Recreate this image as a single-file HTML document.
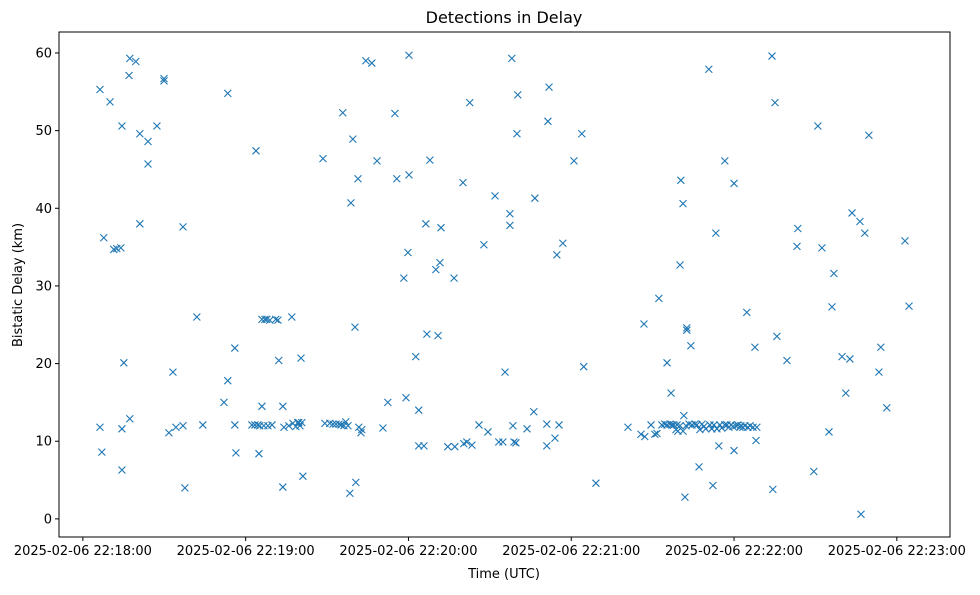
<!DOCTYPE html>
<html><head><meta charset="utf-8"><style>
body{margin:0;background:#fff;}
svg text{font-family:"DejaVu Sans","Liberation Sans",sans-serif;fill:#000;}
</style></head><body>
<svg id="chart" width="980" height="590" xmlns="http://www.w3.org/2000/svg"></svg>
<script>
const tickSeconds=[0,60,120,180,240,300];
const tickLabels=["2025-02-06 22:18:00","2025-02-06 22:19:00","2025-02-06 22:20:00","2025-02-06 22:21:00","2025-02-06 22:22:00","2025-02-06 22:23:00"];
const yTicks=[0,10,20,30,40,50,60];
const times=[6.3,6.3,7.0,7.7,10.0,11.4,12.5,14.0,14.4,14.4,14.4,15.1,17.0,17.3,17.3,19.5,21.0,21.0,24.0,24.0,27.3,29.9,29.9,31.7,33.2,34.3,36.9,36.9,37.6,42.0,44.2,52.0,53.4,53.4,56.0,56.0,56.4,
62.3,63.4,63.8,64.5,64.9,65.2,66.0,66.0,66.7,67.1,67.8,68.2,68.9,69.7,71.1,71.9,72.2,73.7,73.7,74.1,75.9,77.0,77.4,78.5,79.2,79.6,80.0,80.4,80.7,81.1,
88.5,89.2,91.0,92.2,93.3,94.4,95.1,95.8,96.2,96.9,97.7,98.4,98.8,99.5,100.3,100.6,101.4,101.7,102.5,102.8,104.3,106.5,108.4,110.6,112.4,115.0,115.7,118.3,119.1,119.8,120.2,120.2,122.7,123.8,123.8,125.7,126.4,126.8,127.9,130.1,130.9,131.6,132.0,134.5,136.8,137.1,140.1,140.4,141.5,142.6,143.4,146.0,147.8,149.3,151.9,153.3,154.8,155.6,157.4,157.4,158.1,158.5,158.9,159.6,160.0,160.3,163.7,166.2,166.6,171.0,171.0,171.4,171.8,174.0,174.7,175.5,176.9,181.0,183.9,184.6,189.1,
200.9,205.7,206.8,207.1,209.4,210.8,211.6,212.3,213.4,214.5,215.3,215.3,216.4,216.8,217.1,217.8,218.6,219.0,219.3,220.1,220.1,220.4,221.2,221.2,221.5,221.9,222.3,222.6,222.6,223.4,224.1,224.5,225.6,226.3,227.1,227.4,228.2,228.9,229.6,230.7,231.1,231.8,232.2,232.6,233.3,233.7,234.4,234.8,235.5,236.6,236.6,237.4,238.1,238.9,239.6,240.0,240.0,240.7,241.4,242.2,242.5,243.3,244.0,244.7,245.1,245.9,247.0,247.7,248.1,248.4,
254.0,254.3,255.1,255.8,259.5,263.2,263.5,269.4,270.9,272.4,275.0,276.1,276.8,279.8,281.2,282.7,283.5,286.4,286.8,288.2,289.7,293.4,294.1,296.3,303.0,304.5];
const delays=[55.3,11.8,8.6,36.2,53.7,34.7,34.8,34.9,50.6,11.6,6.3,20.1,57.1,59.3,12.9,58.9,49.6,38,48.6,45.7,50.6,56.7,56.4,11.1,18.9,11.8,37.6,12,4,26,12.1,15,17.8,54.8,22,12.1,8.5,
12.1,12.1,47.4,12.1,8.4,12,14.5,25.7,12,25.7,25.7,12,25.6,12.1,25.7,25.6,20.4,14.5,4.1,11.8,12,26,12.3,11.9,12.4,12.4,12,20.7,12.4,5.5,
46.4,12.3,12.3,12.2,12.2,12.2,12.1,52.3,12,12.5,12,3.3,40.7,48.9,24.7,4.7,43.8,11.8,11.1,11.5,59,58.7,46.1,11.7,15,52.2,43.8,31,15.6,34.3,44.3,59.7,20.9,14,9.4,9.4,38,23.8,46.2,32.1,23.6,33,37.5,9.3,31,9.3,43.3,9.7,9.9,53.6,9.5,12.1,35.3,11.2,41.6,9.9,9.9,18.9,37.8,39.3,59.3,12,9.9,9.8,49.6,54.6,11.6,13.8,41.3,9.4,12.2,51.2,55.6,10.4,34,12.1,35.5,46.1,49.6,19.6,4.6,
11.8,10.9,25.1,10.6,12.1,10.9,11,28.4,12.1,12.2,20.1,12.1,12.2,16.2,12.1,12.1,11.5,12.1,11.3,32.7,12,43.6,40.6,11.3,13.3,2.8,12,24.3,24.6,12.2,22.3,12.1,12.2,12.1,6.7,11.5,12.2,11.9,11.6,57.9,12.1,11.6,4.3,12.1,36.8,11.6,9.4,12.1,11.7,46.1,12.1,12.1,11.8,12.1,11.9,43.2,8.8,12,12.1,11.8,12,11.8,12,26.6,11.8,12,11.8,22.1,10.1,11.8,
59.6,3.8,53.6,23.5,20.4,35.1,37.4,6.1,50.6,34.9,11.2,27.3,31.6,20.9,16.2,20.6,39.4,38.3,0.6,36.8,49.4,18.9,22.1,14.3,35.8,27.4];

const NS="http://www.w3.org/2000/svg";
const svg=document.getElementById('chart');
const L=59,R=950,T=32,B=537;
const xMin=-8.8,xMax=319.6,yMin=-2.33,yMax=62.7;
function xs(v){return L+(v-xMin)/(xMax-xMin)*(R-L);}
function ys(v){return B-(v-yMin)/(yMax-yMin)*(B-T);}
function mk(tag,attrs,parent){const e=document.createElementNS(NS,tag);for(const k in attrs)e.setAttribute(k,attrs[k]);(parent||svg).appendChild(e);return e;}

const title=mk('text',{x:504,y:23,'text-anchor':'middle','font-size':'16'});


title.textContent='Detections in Delay';

const pts=mk('g',{stroke:'#1f77b4','stroke-width':'1.1',fill:'none'});


for(let i=0;i<times.length;i++){
  const cx=xs(times[i]),cy=ys(delays[i]),s=3.5;
  const p=mk('path',{d:`M${cx-s},${cy-s}L${cx+s},${cy+s}M${cx-s},${cy+s}L${cx+s},${cy-s}`},pts);
  
  
}

const frame=mk('rect',{x:L,y:T,width:R-L,height:B-T,fill:'none',stroke:'#000','stroke-width':'1'});



const xa=mk('g',{});


tickSeconds.forEach((t,i)=>{
  const x=xs(t);
  mk('line',{x1:x,x2:x,y1:B,y2:B+4,stroke:'#000'},xa);
  const tx=mk('text',{x:x,y:B+18,'text-anchor':'middle','font-size':'13'},xa);
  
  
  tx.textContent=tickLabels[i];
});
const xl=mk('text',{x:504,y:578,'text-anchor':'middle','font-size':'13'});


xl.textContent='Time (UTC)';

const ya=mk('g',{});


yTicks.forEach(v=>{
  const y=ys(v);
  mk('line',{x1:L-4,x2:L,y1:y,y2:y,stroke:'#000'},ya);
  const tx=mk('text',{x:L-7,y:y+4.5,'text-anchor':'end','font-size':'13'},ya);
  
  
  tx.textContent=v;
});
const yl=mk('text',{x:0,y:0,'text-anchor':'middle','font-size':'13',transform:'translate(22,285) rotate(-90)'});


yl.textContent='Bistatic Delay (km)';
</script>
</body></html>
